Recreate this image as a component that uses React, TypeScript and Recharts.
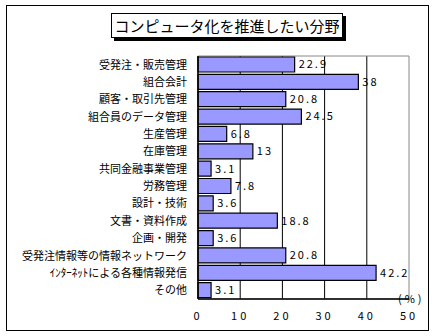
import { Bar, BarChart, CartesianGrid, LabelList, ReferenceArea, XAxis, YAxis } from 'recharts';

const categories = [
  '受発注・販売管理',
  '組合会計',
  '顧客・取引先管理',
  '組合員のデータ管理',
  '生産管理',
  '在庫管理',
  '共同金融事業管理',
  '労務管理',
  '設計・技術',
  '文書・資料作成',
  '企画・開発',
  '受発注情報等の情報ネットワーク',
  'ｲﾝﾀｰﾈｯﾄによる各種情報発信',
  'その他'
];
const values = [22.9, 38, 20.8, 24.5, 6.8, 13, 3.1, 7.8, 3.6, 18.8, 3.6, 20.8, 42.2, 3.1];
const xTicks = [0, 10, 20, 30, 40, 50];

const data = categories.map((name, i) => ({ name, value: values[i] }));

const font = '"Noto Sans CJK JP", "Noto Sans", sans-serif';

export default function App() {
  return (
    <div style={{ position: 'absolute', left: 0, top: 0, width: 435, height: 336, background: '#fff', fontFamily: font }}>
      <div style={{ position: 'absolute', left: 6, top: 5, width: 421, height: 324, border: '1px solid #000' }} />
      {/* title box with drop shadow */}
      <div
        style={{
          position: 'absolute',
          left: 111,
          top: 13,
          width: 230,
          height: 23,
          border: '1px solid #000',
          boxShadow: '3px 3px 0 #000',
          background: '#fff',
          fontSize: 15,
          lineHeight: '23px',
          textAlign: 'center',
          color: '#000'
        }}
      >
        コンピュータ化を推進したい分野
      </div>
      <BarChart
        width={435}
        height={336}
        data={data}
        layout="vertical"
        margin={{ top: 56, right: 26, bottom: 7, left: 8 }}
        style={{ position: 'absolute', left: 0, top: 0 }}
      >
        <ReferenceArea x1={0} x2={50} fill="none" stroke="#888" strokeWidth={1} ifOverflow="visible" />
        <CartesianGrid horizontal={false} stroke="#000" strokeWidth={1} verticalValues={[10, 20, 30, 40]} />
        <XAxis
          type="number"
          domain={[0, 50]}
          ticks={xTicks}
          tickLine={false}
          axisLine={{ stroke: '#000', strokeWidth: 1.5 }}
          height={30}
          tick={{ fill: '#000', fontSize: 11, fontFamily: font, letterSpacing: 3 }}
          tickMargin={7}
        />
        <YAxis
          type="category"
          dataKey="name"
          width={190}
          tickLine={false}
          axisLine={{ stroke: '#000', strokeWidth: 1.5 }}
          tick={{ fill: '#000', fontSize: 11, fontFamily: font }}
          tickMargin={5}
          interval={0}
        />
        <Bar dataKey="value" fill="#9999ff" stroke="#000" strokeWidth={1.2} barSize={15} isAnimationActive={false}>
          <LabelList
            dataKey="value"
            position="right"
            offset={4}
            style={{ fill: '#000', fontSize: 11, fontFamily: font, letterSpacing: 2 }}
          />
        </Bar>
      </BarChart>
      <div
        style={{
          position: 'absolute',
          left: 398,
          top: 293,
          fontSize: 11,
          lineHeight: '11px',
          color: '#000',
          letterSpacing: 3
        }}
      >
        (%)
      </div>
    </div>
  );
}
